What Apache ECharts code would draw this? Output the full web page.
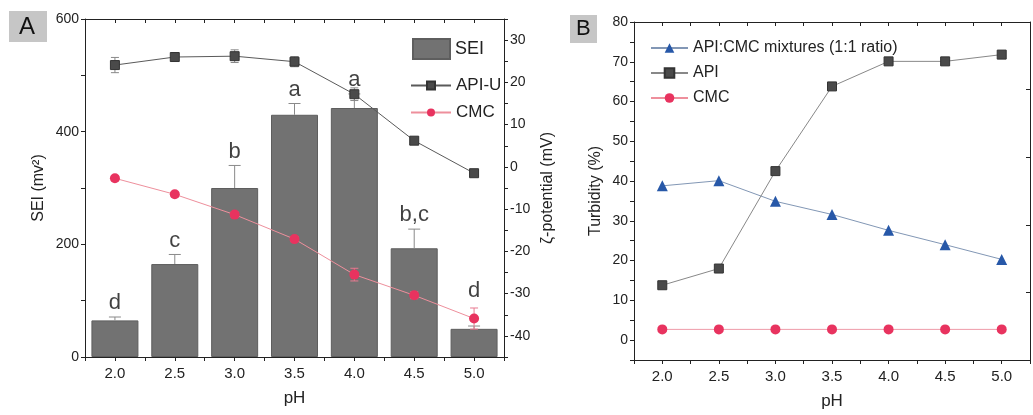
<!DOCTYPE html>
<html><head><meta charset="utf-8">
<script src="https://cdn.jsdelivr.net/npm/echarts@6/dist/echarts.min.js"></script>
<style>html,body{margin:0;padding:0;background:#fff}#c{width:1033px;height:415px}</style>
</head><body><div id="c"></div>
<script>
// ---- data ----
const phValues = [2.0, 2.5, 3.0, 3.5, 4.0, 4.5, 5.0];
const seiValues = [65, 165, 300, 430, 442, 193, 50];
const seiErrors = [6, 17, 40, 20, 25, 34, 5];
const seiLetters = ['d', 'c', 'b', 'a', 'a', 'b,c', 'd'];
const apiUZeta = [24.1, 26.0, 26.2, 24.9, 17.2, 6.2, -1.5];
const apiUZetaErr = [1.8, 1.0, 1.5, 1.2, 1.5, 0.6, 0.6];
const cmcZeta = [-2.7, -6.5, -11.3, -17.1, -25.5, -30.4, -35.9];
const cmcZetaErr = [0.6, 0.6, 0.6, 0.6, 1.5, 0.8, 2.5];
const mixTurb = [38.8, 40.1, 34.9, 31.6, 27.6, 24.0, 20.3];
const apiTurb = [13.8, 18.0, 42.5, 63.8, 70.1, 70.1, 71.8];
const cmcTurb = [2.7, 2.7, 2.7, 2.7, 2.7, 2.7, 2.7];

const FONT = "'Liberation Sans', Arial, sans-serif";
const TXT = '#222';
const chart = echarts.init(document.getElementById('c'), null, {renderer: 'canvas'});

const isMult = (v, m) => Math.abs(v / m - Math.round(v / m)) < 1e-6;
function xAxisCfg(grid, pos, showName) {
  return {
    type: 'value', gridIndex: grid, position: pos, min: 1.75, max: 5.25, interval: 0.25,
    axisLine: {show: true, onZero: false, lineStyle: {color: '#222', width: 1}},
    axisTick: {show: true, inside: pos === 'top', length: 4, lineStyle: {color: '#222'}},
    axisLabel: {show: pos === 'bottom', fontFamily: FONT, fontSize: 15, color: TXT, margin: 9,
      formatter: v => isMult(v, 0.5) && v >= 2 && v <= 5 ? v.toFixed(1) : ''},
    splitLine: {show: false},
    name: showName ? 'pH' : '', nameLocation: 'middle', nameGap: 33,
    nameTextStyle: {fontFamily: FONT, fontSize: 17, color: TXT}
  };
}
function yAxisCfg(grid, pos, min, max, interval, labelStep, name, gap, showLabel) {
  return {
    type: 'value', gridIndex: grid, position: pos, min: min, max: max, interval: interval,
    axisLine: {show: true, onZero: false, lineStyle: {color: '#222', width: 1}},
    axisTick: {show: true, inside: !showLabel, length: 4, lineStyle: {color: '#222'}},
    axisLabel: {show: showLabel, fontFamily: FONT, fontSize: 14, color: TXT, margin: 6,
      formatter: v => isMult(v, labelStep) ? String(v) : ''},
    splitLine: {show: false},
    name: name, nameLocation: 'middle', nameGap: gap, nameRotate: 90,
    nameTextStyle: {fontFamily: FONT, fontSize: 16, color: TXT}
  };
}

function errRenderer(capHalf, upOnly) {
  return function (params, api) {
    const x = api.value(0), lo = api.value(1), hi = api.value(2);
    const p1 = api.coord([x, lo]), p2 = api.coord([x, hi]);
    const color = api.visual('color');
    const st = {stroke: color, lineWidth: 1};
    const kids = [
      {type: 'line', shape: {x1: p1[0], y1: p1[1], x2: p2[0], y2: p2[1]}, style: st},
      {type: 'line', shape: {x1: p2[0] - capHalf, y1: p2[1], x2: p2[0] + capHalf, y2: p2[1]}, style: st}
    ];
    if (!upOnly) kids.push({type: 'line', shape: {x1: p1[0] - capHalf, y1: p1[1], x2: p1[0] + capHalf, y2: p1[1]}, style: st});
    return {type: 'group', children: kids};
  };
}

const pairs = arr => phValues.map((p, i) => [p, arr[i]]);

const option = {
  backgroundColor: '#fff',
  animation: false,
  textStyle: {fontFamily: FONT},
  grid: [
    {left: 85, right: 529, top: 19, bottom: 58},
    {left: 634, width: 403, top: 22, bottom: 53}
  ],
  xAxis: [xAxisCfg(0, 'bottom', true), xAxisCfg(0, 'top', false), xAxisCfg(1, 'bottom', true), xAxisCfg(1, 'top', false)],
  yAxis: [
    yAxisCfg(0, 'left', 0, 600, 100, 200, 'SEI (mv²)', 38, true),
    yAxisCfg(0, 'right', -45, 35, 5, 10, 'ζ-potential (mV)', 36, true),
    yAxisCfg(1, 'left', -5, 80, 5, 10, 'Turbidity (%)', 30, true),
    yAxisCfg(1, 'right', 0, 5, 1, 1, '', 0, false)
  ],
  legend: [
    {data: [{name: 'SEI', icon: 'rect'}], left: 407, top: 33, itemWidth: 37, itemHeight: 20, itemGap: 10,
      textStyle: {fontFamily: FONT, fontSize: 18, color: TXT}},
    {data: ['API-U', 'CMC'], orient: 'vertical', left: 405, top: 72, itemWidth: 40, itemHeight: 10, itemGap: 10,
      textStyle: {fontFamily: FONT, fontSize: 17, color: TXT}},
    {data: ['API:CMC mixtures (1:1 ratio)', 'API', 'CMC'], orient: 'vertical', left: 645, top: 35, itemWidth: 37, itemHeight: 12, itemGap: 9,
      textStyle: {fontFamily: FONT, fontSize: 16, color: TXT}}
  ],
  graphic: [
    {type: 'rect', left: 9, top: 11, shape: {width: 38, height: 31}, style: {fill: '#c6c6c6'}},
    {type: 'text', left: 19, top: 15, style: {text: 'A', font: "24px 'Liberation Sans', Arial", fill: '#111'}},
    {type: 'rect', left: 570, top: 15, shape: {width: 27, height: 28}, style: {fill: '#c6c6c6'}},
    {type: 'text', left: 576, top: 18, style: {text: 'B', font: "22px 'Liberation Sans', Arial", fill: '#111'}}
  ],
  series: [
    {name: 'SEI', type: 'bar', xAxisIndex: 0, yAxisIndex: 0, data: pairs(seiValues), barWidth: 47,
      itemStyle: {color: '#727272', borderColor: '#5e5e5e', borderWidth: 1}, z: 1},
    {type: 'custom', xAxisIndex: 0, yAxisIndex: 0, renderItem: errRenderer(6, true),
      data: phValues.map((p, i) => [p, seiValues[i], seiValues[i] + seiErrors[i]]),
      itemStyle: {color: '#8a8a8a'}, z: 2, silent: true},
    {type: 'scatter', xAxisIndex: 0, yAxisIndex: 0, symbolSize: 0, z: 5, silent: true,
      data: phValues.map((p, i) => ({value: [p, seiValues[i] + seiErrors[i]],
        label: i === 6 ? {distance: 24} : undefined})),
      label: {show: true, position: 'top', distance: 3, fontFamily: FONT, fontSize: 22, color: '#111',
        formatter: pr => seiLetters[pr.dataIndex]}},
    {type: 'custom', xAxisIndex: 0, yAxisIndex: 1, renderItem: errRenderer(4, false),
      data: phValues.map((p, i) => [p, apiUZeta[i] - apiUZetaErr[i], apiUZeta[i] + apiUZetaErr[i]]),
      itemStyle: {color: '#888'}, z: 3, silent: true},
    {type: 'custom', xAxisIndex: 0, yAxisIndex: 1, renderItem: errRenderer(4, false),
      data: phValues.map((p, i) => [p, cmcZeta[i] - cmcZetaErr[i], cmcZeta[i] + cmcZetaErr[i]]),
      itemStyle: {color: '#e87a90'}, z: 3, silent: true},
    {name: 'API-U', type: 'line', xAxisIndex: 0, yAxisIndex: 1, data: pairs(apiUZeta),
      symbol: 'rect', symbolSize: 9, itemStyle: {color: '#4a4a4a', borderColor: '#333', borderWidth: 1},
      lineStyle: {color: '#5a5a5a', width: 1}, z: 4},
    {name: 'CMC', type: 'line', xAxisIndex: 0, yAxisIndex: 1, data: pairs(cmcZeta),
      symbol: 'circle', symbolSize: 10, itemStyle: {color: '#e8335f'},
      lineStyle: {color: '#ee8f9c', width: 1}, z: 4},
    {name: 'API:CMC mixtures (1:1 ratio)', type: 'line', xAxisIndex: 2, yAxisIndex: 2, data: pairs(mixTurb),
      symbol: 'triangle', symbolSize: 11, itemStyle: {color: '#2758a8'},
      lineStyle: {color: '#8297b5', width: 1}, z: 4},
    {name: 'API', type: 'line', xAxisIndex: 2, yAxisIndex: 2, data: pairs(apiTurb),
      symbol: 'rect', symbolSize: 9, itemStyle: {color: '#4a4a4a', borderColor: '#333', borderWidth: 1},
      lineStyle: {color: '#888', width: 1}, z: 4},
    {name: 'CMC', type: 'line', xAxisIndex: 2, yAxisIndex: 2, data: pairs(cmcTurb),
      symbol: 'circle', symbolSize: 10, itemStyle: {color: '#e8335f'},
      lineStyle: {color: '#ee9aa8', width: 1}, z: 4}
  ]
};
chart.setOption(option);
</script>
</body></html>
